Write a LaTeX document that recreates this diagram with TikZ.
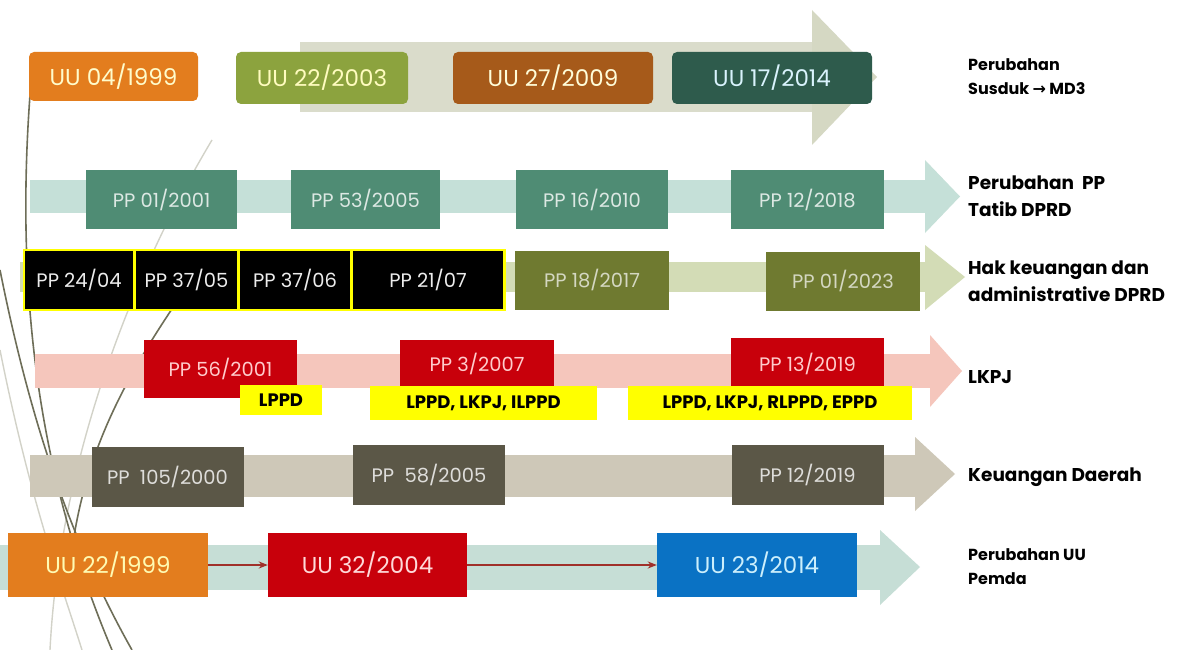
\documentclass[tikz,border=0pt]{standalone}
\usepackage{fontspec}
\setmainfont{Poppins}
\newfontfamily\symfont{DejaVu Sans}
\usetikzlibrary{arrows.meta}
\definecolor{cOrange}{HTML}{E37D1E}
\definecolor{cOlive}{HTML}{8CA33E}
\definecolor{cBrown}{HTML}{A65A1A}
\definecolor{cDGreen}{HTML}{2E5B4C}
\definecolor{cTeal}{HTML}{4F8C74}
\definecolor{cOlive2}{HTML}{6F7A30}
\definecolor{cRed}{HTML}{C8000B}
\definecolor{cYellow}{HTML}{FFFF00}
\definecolor{cGrey}{HTML}{5B5747}
\definecolor{cBlue}{HTML}{0A72C4}
\definecolor{bandA}{HTML}{DADCCB}
\definecolor{headA}{HTML}{D5D8C3}
\definecolor{bandB}{HTML}{C5E0D8}
\definecolor{bandC}{HTML}{D3DCB6}
\definecolor{bandD}{HTML}{F5C6BC}
\definecolor{bandE}{HTML}{CEC8B8}
\definecolor{bandF}{HTML}{C6DED6}
\definecolor{cConn}{HTML}{A0302A}
\definecolor{cDeco}{HTML}{6E6E58}
\definecolor{cDecoL}{HTML}{D2D2C8}
\begin{document}
\begin{tikzpicture}[x=1pt,y=-1pt,
  box/.style={inner sep=0pt, align=center, font=\fontsize{19.5}{19.5}\selectfont},
  uubox/.style={box, rounded corners=5pt, font=\fontsize{23}{23}\selectfont},
  bigbox/.style={box, font=\fontsize{23}{23}\selectfont},
  tag/.style={box, fill=cYellow, font=\fontsize{18}{18}\selectfont\bfseries, text=black},
  lbl/.style={inner sep=0pt, anchor=west, align=left, font=\fontsize{18.5}{27}\selectfont\bfseries, text=black},
  conn/.style={cConn, line width=1.6pt, -{Stealth[length=9pt,width=7pt]}},
  decoD/.style={cDeco, line width=1.6pt},
  decoL/.style={cDecoL, line width=1.4pt}]
\useasboundingbox (0,0) rectangle (1183,650);
\fill[white] (0,0) rectangle (1183,650);

% decorative theme lines
\draw[decoL] (212,140) .. controls (140,260) and (60,450) .. (50,650);
\draw[decoL] (0,350) .. controls (30,500) and (60,580) .. (82,650);
\draw[decoD] (30,95) .. controls (15,300) and (40,480) .. (112,650);
\draw[decoD] (0,270) .. controls (30,420) and (70,540) .. (132,650);
\draw[decoD] (178,300) .. controls (110,400) and (75,480) .. (68,590);

% row 1 arrow
\fill[bandA] (300,42) rectangle (812,112);
\fill[headA] (812,10) -- (877,77) -- (812,145) -- cycle;
% row 2 arrow
\fill[bandB] (30,180) rectangle (925,213);
\fill[bandB] (925,160) -- (960,196.5) -- (925,233) -- cycle;
% row 3 arrow
\fill[bandC] (20,262) rectangle (925,292);
\fill[bandC] (925,245) -- (965,277) -- (925,310) -- cycle;
% row 4 arrow
\fill[bandD] (35,354) rectangle (930,388);
\fill[bandD] (930,335) -- (962,371) -- (930,407) -- cycle;
% row 5 arrow
\fill[bandE] (30,455) rectangle (915,497);
\fill[bandE] (915,437) -- (955,474) -- (915,511) -- cycle;
% row 6 arrow
\fill[bandF] (0,545) rectangle (880,590);
\fill[bandF] (880,530) -- (920,567) -- (880,605) -- cycle;

% row 1
\node[uubox, fill=cOrange, text=white!80!yellow, minimum width=169pt, minimum height=49pt] (uuA) at (113.5,76.5) {UU 04/1999};
\node[uubox, fill=cOlive, text=white!75!yellow, minimum width=172pt, minimum height=52pt] (uuB) at (322,78) {UU 22/2003};
\node[uubox, fill=cBrown, text=white!85!yellow, minimum width=200pt, minimum height=52pt] (uuC) at (553,78) {UU 27/2009};
\node[uubox, fill=cDGreen, text=white!85!cyan, minimum width=200pt, minimum height=52pt] (uuD) at (772,78) {UU 17/2014};
\node[lbl, font=\fontsize{16}{24}\selectfont\bfseries] (lA) at (968,77) {Perubahan\\Susduk {\symfont\bfseries →} MD3};

% row 2
\tikzset{tealbox/.style={box, fill=cTeal, text=white!80!cTeal, minimum height=59pt}}
\node[tealbox, minimum width=151pt] (ppA1) at (161.5,199.5) {PP 01/2001};
\node[tealbox, minimum width=149pt] (ppA2) at (365.5,199.5) {PP 53/2005};
\node[tealbox, minimum width=152pt] (ppA3) at (592,199.5) {PP 16/2010};
\node[tealbox, minimum width=153pt] (ppA4) at (807.5,199.5) {PP 12/2018};
\node[lbl] (lB) at (968,196) {Perubahan~~PP\\Tatib DPRD};

% row 3
\fill[cYellow] (23,249) rectangle (506,311);
\tikzset{blkbox/.style={box, fill=black, text=white!85!gray, minimum height=58pt}}
\node[blkbox, minimum width=108pt] (ppB1) at (79,280) {PP 24/04};
\node[blkbox, minimum width=101pt] (ppB2) at (186.5,280) {PP 37/05};
\node[blkbox, minimum width=110pt] (ppB3) at (295,280) {PP 37/06};
\node[blkbox, minimum width=150pt] (ppB4) at (428,280) {PP 21/07};
\tikzset{olbox/.style={box, fill=cOlive2, text=white!70!cOlive2, minimum height=59pt, minimum width=154pt}}
\node[olbox] (ppB5) at (592,280) {PP 18/2017};
\node[olbox] (ppB6) at (843,281) {PP 01/2023};
\node[lbl] (lC) at (968,281) {Hak keuangan dan\\administrative DPRD};

% row 4
\tikzset{redbox/.style={box, fill=cRed, text=white!80!red}}
\node[redbox, minimum width=153pt, minimum height=58pt] (ppC1) at (220.5,369) {PP 56/2001};
\node[redbox, minimum width=154pt, minimum height=48pt] (ppC2) at (477,364) {PP 3/2007};
\node[redbox, minimum width=153pt, minimum height=51pt] (ppC3) at (807.5,363.5) {PP 13/2019};
\node[tag, minimum width=82pt, minimum height=30pt] (tC1) at (281,400) {LPPD};
\node[tag, minimum width=227pt, minimum height=34pt] (tC2) at (483.5,403) {LPPD, LKPJ, ILPPD};
\node[tag, minimum width=284pt, minimum height=34pt] (tC3) at (770,403) {LPPD, LKPJ, RLPPD, EPPD};
\node[lbl] (lD) at (968,377) {LKPJ};

% row 5
\tikzset{greybox/.style={box, fill=cGrey, text=white!80!cGrey, minimum height=60pt, minimum width=152pt}}
\node[greybox] (ppD1) at (167.5,477) {PP~~105/2000};
\node[greybox] (ppD2) at (429,475) {PP~~58/2005};
\node[greybox] (ppD3) at (807.5,475) {PP 12/2019};
\node[lbl] (lE) at (968,477) {Keuangan Daerah};

% row 6
\node[bigbox, fill=cOrange, text=white!70!yellow, minimum width=200pt, minimum height=64pt] (uuE) at (108,565) {UU 22/1999};
\node[bigbox, fill=cRed, text=white!85!red, minimum width=199pt, minimum height=64pt] (uuF) at (367.5,565) {UU 32/2004};
\node[bigbox, fill=cBlue, text=white!80!cyan, minimum width=200pt, minimum height=64pt] (uuG) at (757,565) {UU 23/2014};
\draw[conn] (uuE) -- (uuF);
\draw[conn] (uuF) -- (uuG);
\node[lbl, font=\fontsize{16}{24}\selectfont\bfseries] (lF) at (968,567) {Perubahan UU\\Pemda};
\end{tikzpicture}
\end{document}
